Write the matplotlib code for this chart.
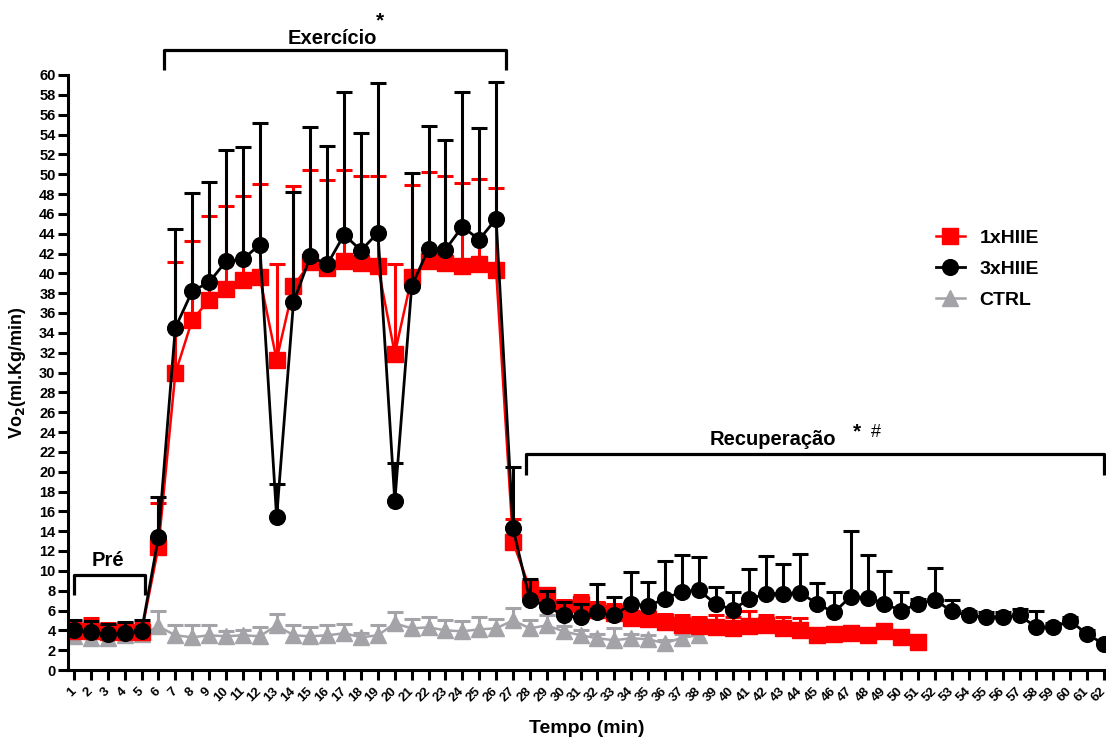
import matplotlib
matplotlib.use("Agg")
import matplotlib.pyplot as plt
import numpy as np

plt.rcParams['font.family'] = ['Liberation Sans', 'DejaVu Sans']
plt.rcParams['font.weight'] = 'bold'

# minutes
t_hiie1 = np.arange(1, 52)
t_hiie3 = np.arange(1, 63)
t_ctrl = np.arange(1, 39)

# 1xHIIE mean / upper SD
hiie1 = [3.9, 3.9, 3.8, 3.8, 3.8, 12.4, 29.9, 35.3, 37.3, 38.4,
         39.3, 39.6, 31.3, 38.7, 41.1, 40.5, 41.2, 41.0, 40.7, 31.9,
         39.6, 41.2, 41.0, 40.7, 40.9, 40.3, 12.9, 8.2, 7.6, 6.3,
         6.7, 6.05, 5.7, 5.2, 5.1, 4.8, 4.5, 4.4, 4.3, 4.2,
         4.4, 4.5, 4.2, 4.0, 3.5, 3.6, 3.7, 3.5, 3.9, 3.36, 2.86]
hiie1_sd = [0.9, 1.3, 0.9, 0.9, 0.9, 4.4, 11.2, 8.0, 8.5, 8.4,
            8.5, 9.4, 9.6, 10.1, 9.3, 8.9, 9.2, 8.8, 9.1, 9.0,
            9.3, 9.0, 8.8, 8.4, 8.6, 8.3, 2.3, 0.8, 0.5, 0.8,
            0.9, 0.85, 1.0, 0.8, 0.8, 0.8, 1.0, 0.9, 1.2, 1.1,
            1.5, 1.0, 1.1, 1.2, 0.3, 0.3, 0.3, 0.3, 0.3, 0.3, 0.3]

# 3xHIIE mean / upper SD
hiie3 = [4.0, 3.8, 3.6, 3.7, 3.9, 13.4, 34.5, 38.2, 39.1, 41.2,
         41.4, 42.9, 15.4, 37.1, 41.7, 40.9, 43.9, 42.3, 44.1, 17.0,
         38.7, 42.5, 42.4, 44.7, 43.4, 45.5, 14.3, 7.06, 6.45, 5.5,
         5.3, 5.8, 5.5, 6.7, 6.45, 7.2, 7.9, 8.07, 6.65, 6.1,
         7.15, 7.7, 7.7, 7.8, 6.7, 5.8, 7.4, 7.3, 6.7, 5.95,
         6.7, 7.06, 5.9, 5.5, 5.3, 5.37, 5.5, 4.3, 4.3, 4.94,
         3.63, 2.6]
hiie3_sd = [1.0, 1.1, 1.0, 1.1, 1.1, 4.0, 10.0, 9.9, 10.1, 11.2,
            11.3, 12.3, 3.4, 11.1, 13.1, 11.9, 14.4, 11.9, 15.1, 3.9,
            11.4, 12.4, 11.0, 13.6, 11.3, 13.8, 6.2, 2.1, 1.55, 1.4,
            1.35, 2.9, 1.9, 3.15, 2.45, 3.8, 3.7, 3.3, 1.75, 1.8,
            3.0, 3.8, 3.0, 3.9, 2.1, 2.1, 6.6, 4.3, 3.3, 1.95,
            0.5, 3.2, 1.2, 0.5, 0.5, 0.5, 0.7, 1.65, 0.4, 0.4,
            0.4, 0.3]

# CTRL mean / upper SD
ctrl = [3.4, 3.2, 3.2, 3.5, 3.6, 4.4, 3.5, 3.3, 3.5, 3.4,
        3.5, 3.4, 4.5, 3.5, 3.4, 3.5, 3.7, 3.3, 3.5, 4.7,
        4.2, 4.3, 4.0, 3.9, 4.1, 4.2, 5.0, 4.2, 4.5, 3.9,
        3.5, 3.2, 3.0, 3.2, 3.1, 2.7, 3.25, 3.5]
ctrl_sd = [0.4, 0.4, 0.4, 0.4, 0.4, 1.6, 1.0, 1.2, 1.0, 0.5,
           0.5, 0.9, 1.1, 1.0, 0.9, 1.0, 0.9, 0.4, 1.0, 1.1,
           0.9, 1.0, 1.0, 1.0, 1.2, 0.9, 1.3, 0.8, 1.0, 0.5,
           0.5, 0.4, 1.2, 0.4, 0.4, 0.3, 0.4, 0.3]

RED = '#ff0000'
GREY = '#a3a3a8'

fig = plt.figure(figsize=(11.06, 7.37), dpi=100)
ax = fig.add_axes([68 / 1106, 67 / 737, 1038 / 1106, 595 / 737])


def series(x, y, sd, color, marker, ms, lw, z, label):
    y = np.asarray(y)
    sd = np.asarray(sd)
    cont = ax.errorbar(x, y, yerr=[np.zeros_like(sd), sd], fmt='none',
                       ecolor=color, elinewidth=2.2, capsize=5.5,
                       capthick=2.2, zorder=z)
    for cl in cont[1]:
        if np.allclose(cl.get_ydata(), y):
            cl.set_visible(False)
    ln, = ax.plot(x, y, color=color, lw=lw, marker=marker, ms=ms,
                  mec=color, mfc=color, zorder=z + 0.5, label=label)
    return ln


h_ctrl = series(t_ctrl, ctrl, ctrl_sd, GREY, '^', 11, 1.8, 1, 'CTRL')
h1 = series(t_hiie1, hiie1, hiie1_sd, RED, 's', 12, 1.8, 2, '1xHIIE')
h3 = series(t_hiie3, hiie3, hiie3_sd, 'black', 'o', 11.3, 2.0, 3, '3xHIIE')

ax.set_xlim(0.645, 62.12)
ax.set_ylim(0, 60)
ax.set_yticks(np.arange(0, 61, 2))
ax.set_xticks(t_hiie3)
ax.set_xticklabels([str(v) for v in t_hiie3], rotation=45,
                   rotation_mode='anchor', ha='right', va='center',
                   fontsize=9.5, fontweight='bold')
ax.tick_params(axis='y', labelsize=10.5, width=2.2, length=7, pad=2)
ax.tick_params(axis='x', width=2.2, length=7, pad=7)
for lab in ax.get_yticklabels():
    lab.set_fontweight('bold')
for s in ['top', 'right']:
    ax.spines[s].set_visible(False)
for s in ['left', 'bottom']:
    ax.spines[s].set_linewidth(2.2)

ax.set_xlabel('Tempo (min)', fontsize=14, fontweight='bold', labelpad=11)
ax.set_ylabel(r'Vo$_\mathbf{2}$(ml.Kg/min)', fontsize=13, fontweight='bold',
              labelpad=8)

ax.legend(handles=[h1, h3, h_ctrl], loc='upper left',
          bbox_to_anchor=(0.819, 0.77), frameon=False, fontsize=14,
          handlelength=1.5, labelspacing=0.68, handletextpad=0.75)


def bracket(x0, x1, y, leg, label, lx, ly):
    ax.plot([x0, x0, x1, x1], [y - leg, y, y, y - leg], color='black',
            lw=2.3, clip_on=False, solid_capstyle='butt')
    ax.text(lx, ly, label, ha='center', va='center', fontsize=14.5,
            fontweight='bold')


bracket(1.0, 5.2, 9.6, 2.0, 'Pré', 3.0, 11.0)
bracket(6.33, 26.6, 62.5, 2.0, 'Exercício', 16.3, 63.7)
bracket(27.77, 62.0, 21.8, 2.1, 'Recuperação', 42.4, 23.2)
ax.text(19.1, 65.5, '*', ha='center', va='center', fontsize=15,
        fontweight='bold')
ax.text(47.4, 24.0, '*', ha='center', va='center', fontsize=15,
        fontweight='bold')
ax.text(48.5, 23.9, '#', ha='center', va='center', fontsize=13,
        fontweight='normal')

fig.savefig('out.png', dpi=100)
